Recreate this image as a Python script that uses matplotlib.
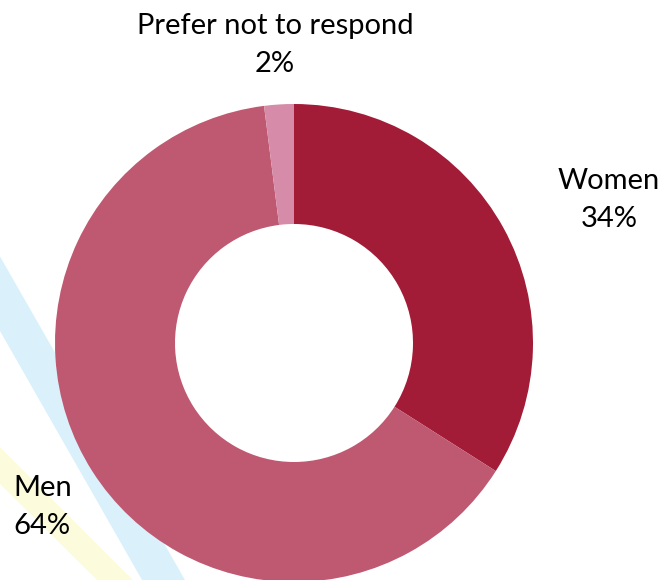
import matplotlib.pyplot as plt
from matplotlib.patches import Polygon

plt.rcParams['font.family'] = ['Lato', 'DejaVu Sans']

# data
labels = ['Women', 'Men', 'Prefer not to respond']
shares = [34, 64, 2]
colors = ['#A31C37', '#BF5871', '#D68CA8']

W, H = 664, 580
fig = plt.figure(figsize=(W / 100, H / 100), dpi=100)
ax = fig.add_axes([0, 0, 1, 1])

# background stripes (given in pixel coords, y down)
def stripe(pts, color):
    p = Polygon([(x, H - y) for x, y in pts], closed=True, color=color, lw=0, zorder=0)
    ax.add_patch(p)

stripe([(-150, -6), (-150, 68), (142, 580), (185, 580)], '#DAF1FC')
stripe([(-100, 347), (-100, 385), (97, 580), (133, 580)], '#FCFCDC')

# donut
cx, cy, r = 294, H - 343, 239
ax.pie(shares, colors=colors, startangle=90, counterclock=False,
       center=(cx, cy), radius=r,
       wedgeprops=dict(width=r - 119, linewidth=0))

fs = 21
ls = 1.6
ax.text(275, H - 45, labels[2] + '\n' + f'{shares[2]}%', ha='center', va='center',
        fontsize=fs, linespacing=ls)
ax.text(609, H - 200, labels[0] + '\n' + f'{shares[0]}%', ha='center', va='center',
        fontsize=fs, linespacing=ls)
ax.text(13, H - 507, labels[1] + '\n' + f'{shares[1]}%', ha='left', va='center',
        fontsize=fs, linespacing=ls)

ax.set_xlim(0, W)
ax.set_ylim(0, H)
ax.set_aspect('equal')
ax.axis('off')

plt.savefig('out.png', dpi=100)
